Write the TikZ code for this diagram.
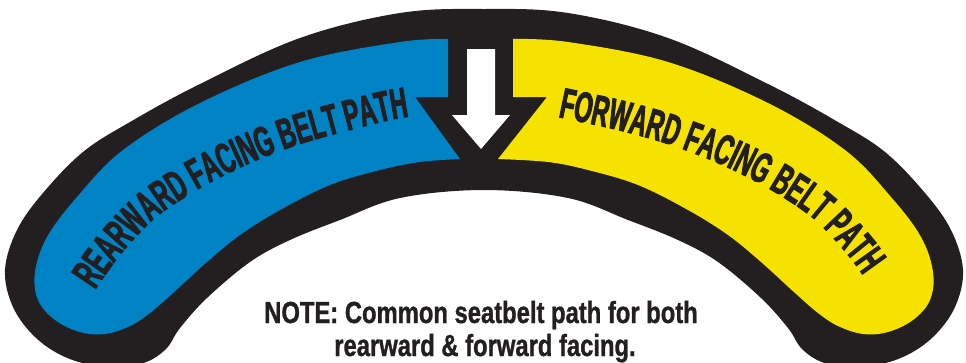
\documentclass[tikz,border=0pt]{standalone}
\usepackage{fontspec}
\usetikzlibrary{decorations.text}
\newfontfamily\beltfont[FakeStretch=0.54, FakeBold=2]{Liberation Sans}
\newfontfamily\notefont[FakeStretch=0.78, FakeBold=1]{Liberation Sans}
\definecolor{ink}{HTML}{231F20}
\definecolor{beltblue}{HTML}{0083C4}
\definecolor{beltyellow}{HTML}{F6E200}
\tikzset{
  beltlabel/.style={decorate, decoration={text along path, #1}},
  notetext/.style={font=\notefont\bfseries\fontsize{30.5}{33}\selectfont, text=ink, anchor=base, inner sep=0pt}
}
\begin{document}
\begin{tikzpicture}[x=1pt,y=-1pt]
\useasboundingbox (0,0) rectangle (966,362);
% black outline band
\fill[ink] plot[smooth cycle, tension=0.6] coordinates {
 (484,9) (568,13) (668,38) (768,84) (838,122) (885,152) (925,193) (951,230)
 (963,270) (955,307) (933,337) (903,357) (868,366) (828,364) (803,350) (788,328)
 (761,298) (718,262) (678,240) (628,220) (568,198) (484,190) (400,198) (340,220)
 (290,240) (250,262) (207,298) (180,328) (165,350) (140,364) (100,366) (65,357)
 (35,337) (13,307) (5,270) (17,230) (43,193) (83,152) (130,122) (200,84)
 (300,38) (400,13)};
% blue half
\fill[beltblue] (448,97) -- plot[smooth, tension=0.6] coordinates {
 (448,39) (400,42) (300,62) (200,103) (123,150) (77,197) (47,237) (35,272)
 (38,300) (55,320) (80,332) (105,334) (130,326) (150,313) (173,293) (207,262)
 (240,235) (280,210) (330,185) (380,170) (420,162) (460,159)} -- (415,97) -- cycle;
% yellow half
\fill[beltyellow] (513,97) -- plot[smooth, tension=0.6] coordinates {
 (513,39) (568,42) (668,62) (768,103) (845,150) (891,197) (921,237) (933,272)
 (930,300) (913,320) (888,332) (863,334) (838,326) (818,313) (795,293) (761,262)
 (728,235) (688,210) (638,185) (588,170) (548,162) (498,159)} -- (547,97) -- cycle;
% white arrow
\fill[white] (467,49) -- (495,49) -- (495,115) -- (510,115) -- (481,149) -- (452,115) -- (467,115) -- cycle;
% curved labels
\path[beltlabel={text align=left, text={|\beltfont\bfseries\fontsize{43}{43}\selectfont\color{ink}|REARWARD FACING BELT PATH}}]
  plot[smooth] coordinates {(95,290) (120,255) (155,218) (200,188) (250,163) (300,144) (350,130) (407,117) (484,113)};
\path[beltlabel={text align=left, text={|\beltfont\bfseries\fontsize{43}{43}\selectfont\color{ink}|FORWARD FACING BELT PATH}}]
  plot[smooth] coordinates {(558,117) (618,130) (668,144) (718,163) (768,188) (813,218) (848,255) (873,290) (885,310)};
% note
\node[notetext] (note1) at (481,323) {NOTE: Common seatbelt path for both};
\node[notetext] (note2) at (485,356) {rearward \& forward facing.};
\end{tikzpicture}
\end{document}
